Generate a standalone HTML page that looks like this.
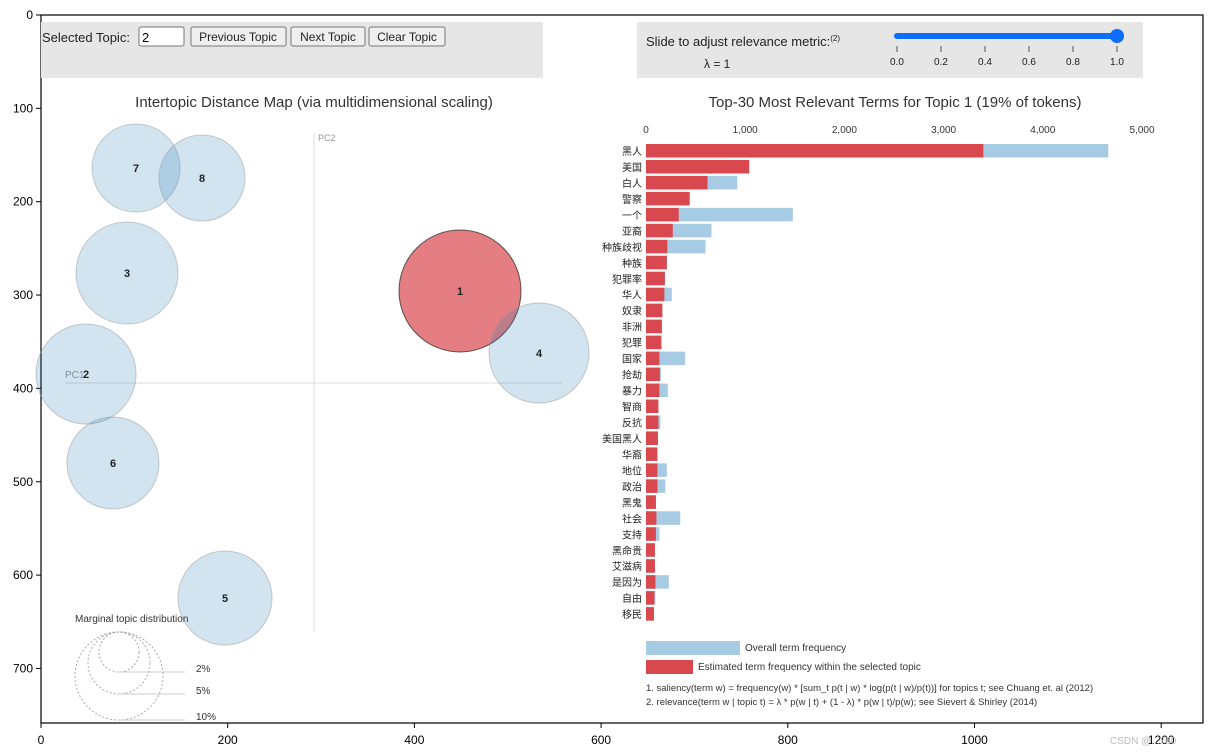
<!DOCTYPE html>
<html><head><meta charset="utf-8"><style>
body{margin:0;background:#fff;}
svg{display:block;font-family:"Liberation Sans","Noto Sans CJK SC",sans-serif;}
</style></head><body>
<svg id="fig" width="1213" height="755" viewBox="0 0 1213 755">
<rect x="0" y="0" width="1213" height="755" fill="#fff"/>
<g id="frame"></g>
<rect x="41" y="22" width="502" height="56" fill="#e6e6e6"/>
<text x="42" y="42" font-size="13" fill="#222">Selected Topic:</text>
<rect x="139" y="27" width="45" height="19" fill="#fff" stroke="#777" rx="2"/>
<text x="142" y="42" font-size="13" fill="#000">2</text>
<rect x="191" y="27" width="95" height="19" fill="#efefef" stroke="#777" rx="2"/>
<text x="238" y="41" font-size="12" text-anchor="middle" fill="#222">Previous Topic</text>
<rect x="291" y="27" width="74" height="19" fill="#efefef" stroke="#777" rx="2"/>
<text x="328" y="41" font-size="12" text-anchor="middle" fill="#222">Next Topic</text>
<rect x="369" y="27" width="76" height="19" fill="#efefef" stroke="#777" rx="2"/>
<text x="407" y="41" font-size="12" text-anchor="middle" fill="#222">Clear Topic</text>

<rect x="637" y="22" width="506" height="56" fill="#e6e6e6"/>
<text x="646" y="46" font-size="13" fill="#222">Slide to adjust relevance metric:<tspan font-size="8" dy="-5">(2)</tspan></text>
<text x="704" y="68" font-size="12" fill="#222">λ = 1</text>
<line x1="897" y1="36" x2="1117" y2="36" stroke="#0d6efd" stroke-width="6" stroke-linecap="round"/>
<circle cx="1117" cy="36" r="7" fill="#0d6efd"/>
<g id="slider-ticks"></g>

<text x="314" y="107" font-size="15" text-anchor="middle" fill="#333">Intertopic Distance Map (via multidimensional scaling)</text>
<text x="895" y="107" font-size="15" text-anchor="middle" fill="#333">Top-30 Most Relevant Terms for Topic 1 (19% of tokens)</text>

<line x1="314" y1="133" x2="314" y2="632" stroke="#ddd"/>
<text x="318" y="141" font-size="9" fill="#999">PC2</text>
<line x1="65" y1="383" x2="562" y2="383" stroke="#ddd"/>
<text x="65" y="378" font-size="10" fill="#999">PC1</text>
<g id="topics"></g>

<text x="75" y="622" font-size="10" fill="#333">Marginal topic distribution</text>
<g id="marginal"></g>

<g id="bars"></g>

<rect x="646" y="641" width="94" height="14" fill="#a6cbe3"/>
<text x="745" y="651" font-size="10" fill="#333">Overall term frequency</text>
<rect x="646" y="660" width="47" height="14" fill="#d9474f"/>
<text x="698" y="670" font-size="10" fill="#333">Estimated term frequency within the selected topic</text>
<text x="646" y="691" font-size="9.5" fill="#333">1. saliency(term w) = frequency(w) * [sum_t p(t | w) * log(p(t | w)/p(t))] for topics t; see Chuang et. al (2012)</text>
<text x="646" y="705" font-size="9.5" fill="#333">2. relevance(term w | topic t) = λ * p(w | t) + (1 - λ) * p(w | t)/p(w); see Sievert &amp; Shirley (2014)</text>
<text x="1110" y="744" font-size="10" fill="#bbb">CSDN @...760</text>
</svg>
<script>
const terms=["黑人","美国","白人","警察","一个","亚裔","种族歧视","种族","犯罪率","华人","奴隶","非洲","犯罪","国家","抢劫","暴力","智商","反抗","美国黑人","华裔","地位","政治","黑鬼","社会","支持","黑命贵","艾滋病","是因为","自由","移民"];
const overallFreq=[4660,1040,920,440,1480,660,600,210,190,260,165,160,155,395,150,220,125,145,120,115,210,195,100,345,135,90,90,230,95,80];
const topicFreq=[3400,1040,620,440,330,270,215,210,190,185,165,160,155,135,140,135,125,125,120,115,115,115,100,105,100,90,90,95,85,80];
const barTicks=[0,1000,2000,3000,4000,5000];
const topicIds=[1,2,3,4,5,6,7,8];
const topicX=[460,86,127,539,225,113,136,202];
const topicY=[291,374,273,353,598,463,168,178];
const topicR=[61,50,51,50,47,46,44,43];
const figXTicks=[0,200,400,600,800,1000,1200];
const figYTicks=[0,100,200,300,400,500,600,700];
const sliderTicks=["0.0","0.2","0.4","0.6","0.8","1.0"];
const marginalLabels=["2%","5%","10%"];
const marginalR=[20,31,44];

const NS="http://www.w3.org/2000/svg";
function mk(tag,attrs,parent,txt){const e=document.createElementNS(NS,tag);for(const k in attrs)e.setAttribute(k,attrs[k]);if(txt!==undefined)e.textContent=txt;parent.appendChild(e);return e;}
const fx=v=>41+v*0.9335, fy=v=>15+v*0.9335;
const frame=document.getElementById('frame');
let r=mk('rect',{x:41,y:15,width:1162,height:708,fill:'none',stroke:'#000','stroke-width':1.2},frame);


figXTicks.forEach(v=>{const x=fx(v);
 let l=mk('line',{x1:x,y1:723,x2:x,y2:728,stroke:'#000'},frame);
 
 
 let t=mk('text',{x:x,y:744,'font-size':12,'text-anchor':'middle',fill:'#000'},frame,String(v));
 
 });
figYTicks.forEach(v=>{const y=fy(v);
 let l=mk('line',{x1:36,y1:y,x2:41,y2:y,stroke:'#000'},frame);
 
 
 let t=mk('text',{x:33,y:y+4,'font-size':12,'text-anchor':'end',fill:'#000'},frame,String(v));
 
 });
const st=document.getElementById('slider-ticks');
sliderTicks.forEach((s,i)=>{const x=897+i*44;
 let l=mk('line',{x1:x,y1:46,x2:x,y2:52,stroke:'#555'},st);
 
 
 let t=mk('text',{x:x,y:65,'font-size':10,'text-anchor':'middle',fill:'#222'},st,s);
 
 });
const tg=document.getElementById('topics');
topicIds.forEach((id,i)=>{const sel=id===1;
 let c=mk('circle',{cx:topicX[i],cy:topicY[i],r:topicR[i],fill:sel?'#d9474f':'#1f77b4','fill-opacity':sel?0.7:0.2,stroke:sel?'#333':'#999','stroke-opacity':sel?0.8:0.5},tg);
 
 
});
topicIds.forEach((id,i)=>{
 let t=mk('text',{x:topicX[i],y:topicY[i]+4,'font-size':11,'font-weight':'bold','text-anchor':'middle',fill:'#222'},tg,String(id));
 
 });
const mg=document.getElementById('marginal');
marginalR.forEach((rr,i)=>{const cy=632+rr;
 let c=mk('circle',{cx:119,cy:cy,r:rr,fill:'none',stroke:'#aaa','stroke-dasharray':'2 2'},mg);
 
 
 let l=mk('line',{x1:119,y1:cy+rr,x2:185,y2:cy+rr,stroke:'#ccc'},mg);
 
 
 let t=mk('text',{x:196,y:cy+rr,'font-size':10,fill:'#333'},mg,marginalLabels[i]);
 
 });
const bg=document.getElementById('bars');
const bx=v=>646+v*0.0992, by=i=>144+i*15.97;
barTicks.forEach(v=>{
 let t=mk('text',{x:bx(v),y:133,'font-size':10,'text-anchor':'middle',fill:'#333'},bg,v.toLocaleString('en-US'));
 
 });
terms.forEach((w,i)=>{
 let b=mk('rect',{x:bx(0),y:by(i),width:bx(overallFreq[i])-bx(0),height:13.5,fill:'#a6cbe3'},bg);
 
 
 let b2=mk('rect',{x:bx(0),y:by(i),width:bx(topicFreq[i])-bx(0),height:13.5,fill:'#d9474f'},bg);
 
 
 let t=mk('text',{x:642,y:by(i)+11,'font-size':10,'text-anchor':'end',fill:'#222'},bg,w);
 
 });
</script>
</body></html>
